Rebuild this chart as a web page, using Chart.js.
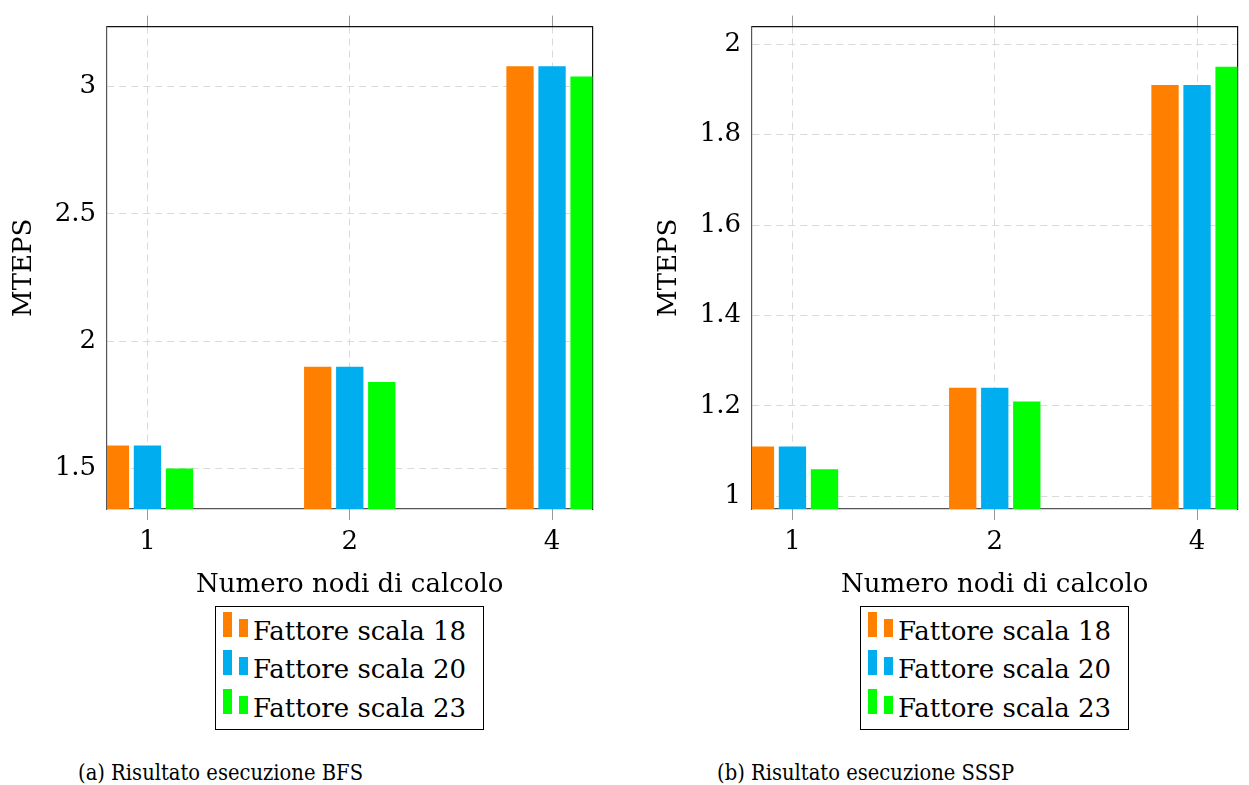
<!DOCTYPE html>
<html>
<head>
<meta charset="utf-8">
<script src="https://cdn.jsdelivr.net/npm/chart.js@4.4.1/dist/chart.umd.min.js"></script>
<style>
  body { margin: 0; background: #fff; width: 1249px; height: 785px; overflow: hidden; position: relative; font-family: "DejaVu Serif", serif; color: #000; }
  .panel { position: absolute; top: 0; width: 620px; height: 785px; }
  .panel canvas { position: absolute; left: 0; top: 0; }
  .legend { position: absolute; left: 215px; top: 606px; width: 267px; height: 122px; border: 1px solid #000; background: #fff; }
  .row { position: absolute; left: 0; width: 100%; height: 38px; }
  .ico { position: absolute; width: 9px; }
  .txt { position: absolute; left: 37px; top: 4px; font-size: 26px; line-height: 30px; white-space: nowrap; }
  .cap { position: absolute; top: 757px; font-size: 23px; line-height: 30px; white-space: nowrap; transform: scaleX(0.85); transform-origin: left center; }
</style>
</head>
<body>
<div class="panel" id="pa" style="left:0px"><canvas id="bfsChart" width="620" height="609"></canvas><div class="legend" id="legA"></div></div>
<div class="panel" id="pb" style="left:645px"><canvas id="ssspChart" width="620" height="609"></canvas><div class="legend" id="legB"></div></div>
<div class="cap" style="left:78px">(a) Risultato esecuzione BFS</div>
<div class="cap" style="left:717px">(b) Risultato esecuzione SSSP</div>
<script>
const nodes = ["1", "2", "4"];
const series = ["Fattore scala 18", "Fattore scala 20", "Fattore scala 23"];
const colors = ["#ff8000", "#00aeef", "#00ff00"];

const bfs18 = [1.59, 1.90, 3.08];
const bfs20 = [1.59, 1.90, 3.08];
const bfs23 = [1.50, 1.84, 3.04];
const bfsTicks = [1.5, 2, 2.5, 3];
const bfsRange = [1.341, 3.236];

const sssp18 = [1.11, 1.24, 1.91];
const sssp20 = [1.11, 1.24, 1.91];
const sssp23 = [1.06, 1.21, 1.95];
const ssspTicks = [1, 1.2, 1.4, 1.6, 1.8, 2];
const ssspRange = [0.972, 2.039];

Chart.defaults.font.family = '"DejaVu Serif", serif';
Chart.defaults.font.size = 26;
Chart.defaults.color = "#000";

const GRID = "#d9d9d9";
const nodeTicks = (s) => { s.ticks = nodes.map((_, i) => ({ value: i })); };

function makeChart(id, sets, yTicks, yRange) {
  new Chart(document.getElementById(id), {
    type: "bar",
    data: {
      datasets: sets.map((vals, k) => ({
        label: series[k], backgroundColor: colors[k], borderWidth: 0,
        data: vals.map((v, i) => ({ x: i, y: v })),
        categoryPercentage: 0.475, barPercentage: 0.853,
        xAxisID: "x", yAxisID: "y",
      })),
    },
    options: {
      responsive: false, animation: false, events: [],
      layout: { padding: { top: 23, right: 27.5, left: 0, bottom: 0 } },
      scales: {
        x: {
          type: "linear", position: "bottom", min: -0.2, max: 2.2, offset: false,
          afterBuildTicks: nodeTicks, afterFit: (s) => { s.height = 100; },
          ticks: { callback: (v) => nodes[v], padding: 7, maxRotation: 0 },
          grid: { offset: false, color: GRID, tickColor: "#999", tickLength: 11, tickBorderDash: [] },
          border: { color: "#555", width: 1.2, dash: [7, 5] },
          title: { display: true, text: "Numero nodi di calcolo", padding: { top: 0, bottom: 8 } },
        },
        x2: {
          type: "linear", position: "top", min: -0.2, max: 2.2, offset: false,
          afterBuildTicks: nodeTicks, afterFit: (s) => { s.height = 0; },
          ticks: { display: false },
          grid: { offset: false, drawOnChartArea: false, tickColor: "#999", tickLength: 11 },
          border: { color: "#111", width: 1.2 },
        },
        y: {
          min: yRange[0], max: yRange[1],
          afterBuildTicks: (s) => { s.ticks = yTicks.map((v) => ({ value: v })); },
          afterFit: (s) => { s.width = 107; },
          ticks: { callback: (v) => String(v), padding: 11 },
          grid: { color: GRID, drawTicks: false },
          border: { color: "#555", width: 1.2, dash: [7, 5] },
          title: { display: true, text: "MTEPS", padding: { top: 9, bottom: 0 } },
        },
        y2: {
          position: "right", min: 0, max: 1,
          afterFit: (s) => { s.width = 0; },
          ticks: { display: false },
          grid: { display: false },
          border: { color: "#111", width: 1.2 },
        },
      },
      plugins: { legend: { display: false }, tooltip: { enabled: false } },
    },
  });
}

function makeLegend(id) {
  const box = document.getElementById(id);
  series.forEach((name, i) => {
    const row = document.createElement("div");
    row.className = "row";
    row.style.top = (5 + i * 38.3) + "px";
    row.innerHTML =
      `<span class="ico" style="left:7px;top:0px;height:25px;background:${colors[i]}"></span>` +
      `<span class="ico" style="left:23px;top:7px;height:18px;background:${colors[i]}"></span>` +
      `<span class="txt">${name}</span>`;
    box.appendChild(row);
  });
}

makeChart("bfsChart", [bfs18, bfs20, bfs23], bfsTicks, bfsRange);
makeChart("ssspChart", [sssp18, sssp20, sssp23], ssspTicks, ssspRange);
makeLegend("legA");
makeLegend("legB");
</script>
</body>
</html>
